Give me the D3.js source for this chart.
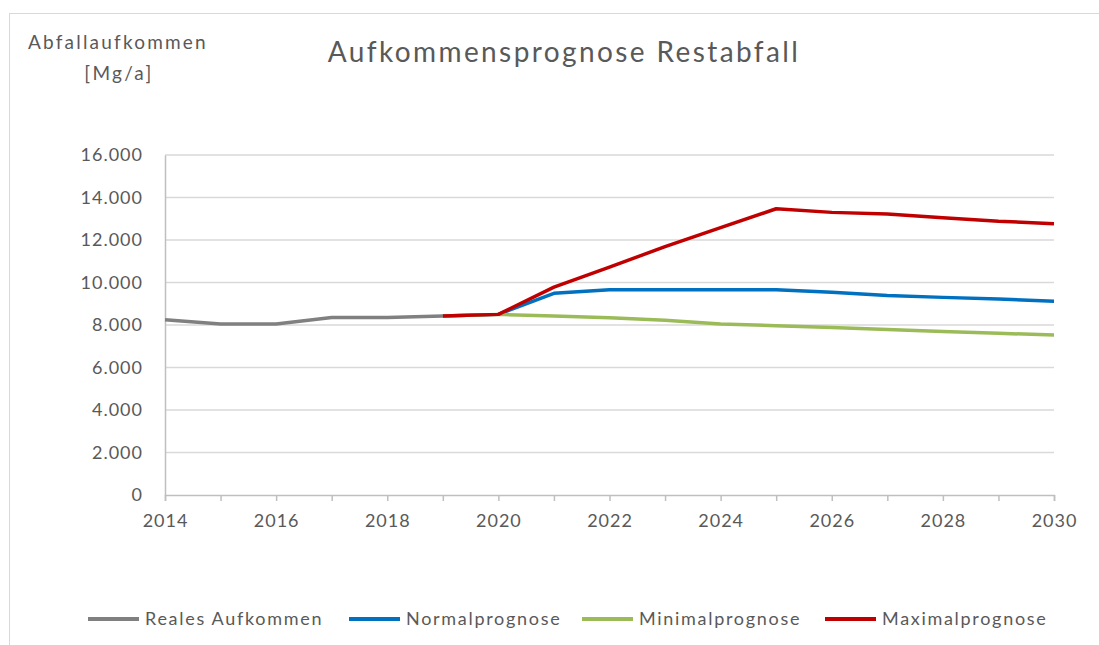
<!DOCTYPE html>
<html>
<head>
<meta charset="utf-8">
<script src="https://cdn.jsdelivr.net/npm/d3@7"></script>
<style>
  body { margin: 0; background: #fff; }
  svg text { font-family: Lato, "Open Sans", sans-serif; fill: #595959; }
</style>
</head>
<body>
<div id="chart"></div>
<script>
// values
const realYears = [2014, 2015, 2016, 2017, 2018, 2019];
const realValues = [8250, 8050, 8050, 8350, 8350, 8420];

const forecastYears = [2019, 2020, 2021, 2022, 2023, 2024, 2025, 2026, 2027, 2028, 2029, 2030];
const normalValues = [8420, 8500, 9490, 9660, 9660, 9660, 9660, 9540, 9390, 9300, 9220, 9120];
const minimalValues = [8420, 8500, 8420, 8340, 8220, 8050, 7970, 7880, 7790, 7690, 7610, 7530];
const maximalValues = [8420, 8500, 9780, 10720, 11690, 12580, 13470, 13300, 13220, 13050, 12880, 12770];

const yTicks = [0, 2000, 4000, 6000, 8000, 10000, 12000, 14000, 16000];
const xTicks = [2014, 2016, 2018, 2020, 2022, 2024, 2026, 2028, 2030];

const seriesNames = ["Reales Aufkommen", "Normalprognose", "Minimalprognose", "Maximalprognose"];
const seriesColors = ["#808080", "#0070c0", "#9bbb59", "#c00000"];

const width = 1099, height = 645;
const margin = { top: 155, right: 45, bottom: 150, left: 165 };

const svg = d3.select("#chart")
  .append("svg")
  .attr("width", width)
  .attr("height", height)
  .attr("viewBox", [0, 0, width, height]);

// chart frame (runs off the right and bottom edges)
svg.append("rect")
  .attr("x", 9.5).attr("y", 13.5)
  .attr("width", 1100).attr("height", 700)
  .attr("fill", "none")
  .attr("stroke", "#d9d9d9");

const x = d3.scaleLinear()
  .domain([2014, 2030])
  .range([margin.left, width - margin.right]);

const y = d3.scaleLinear()
  .domain([0, 16000])
  .range([height - margin.bottom, margin.top]);

// gridlines
svg.append("g")
  .selectAll("line")
  .data(yTicks.filter(d => d > 0))
  .join("line")
    .attr("x1", x(2014)).attr("x2", x(2030))
    .attr("y1", d => y(d)).attr("y2", d => y(d))
    .attr("stroke", "#d9d9d9")
    .attr("stroke-width", 1.5);

const fmt = d => d === 0 ? "0" : d3.format(",")(d).replace(/,/g, ".");

function yAxis(g) {
  g.attr("transform", `translate(${margin.left},0)`)
    .call(d3.axisLeft(y).tickValues(yTicks).tickFormat(fmt).tickSize(0).tickPadding(22))
    .call(g => g.select(".domain").attr("stroke", "#bfbfbf").attr("stroke-width", 1.5))
    .attr("font-size", "18px");
}

function xAxis(g) {
  g.attr("transform", `translate(0,${y(0)})`)
    .call(d3.axisBottom(x).tickValues(d3.range(2014, 2031)).tickFormat(d => xTicks.includes(d) ? d : "").tickSize(6).tickPadding(13))
    .call(g => g.select(".domain").attr("stroke", "#bfbfbf").attr("stroke-width", 1.5))
    .call(g => g.selectAll(".tick line").attr("stroke", "#bfbfbf").attr("stroke-width", 1.5))
    .attr("font-size", "18px");
}

svg.append("g").call(yAxis);
svg.append("g").call(xAxis);
svg.selectAll(".tick text")
  .attr("fill", "#595959")
  .style("font-family", "Lato, sans-serif")
  .style("letter-spacing", "1px");

const line = d3.line()
  .x(d => x(d[0]))
  .y(d => y(d[1]));

const series = [
  d3.zip(realYears, realValues),
  d3.zip(forecastYears, normalValues),
  d3.zip(forecastYears, minimalValues),
  d3.zip(forecastYears, maximalValues)
];

svg.append("g")
  .selectAll("path")
  .data(series)
  .join("path")
    .attr("d", line)
    .attr("fill", "none")
    .attr("stroke", (d, i) => seriesColors[i])
    .attr("stroke-width", 3.5)
    .attr("stroke-linejoin", "round");

// titles
svg.append("text")
  .attr("x", 564).attr("y", 62)
  .attr("text-anchor", "middle")
  .attr("font-size", "28px")
  .style("letter-spacing", "2.4px")
  .text("Aufkommensprognose Restabfall");

svg.append("text")
  .attr("x", 118).attr("y", 49)
  .attr("text-anchor", "middle")
  .attr("font-size", "19px")
  .style("letter-spacing", "2.2px")
  .text("Abfallaufkommen");

svg.append("text")
  .attr("x", 119).attr("y", 80)
  .attr("text-anchor", "middle")
  .attr("font-size", "19px")
  .style("letter-spacing", "2.3px")
  .text("[Mg/a]");

// legend
const legendX = [88, 349, 582, 825];
const legend = svg.append("g")
  .selectAll("g")
  .data(seriesNames)
  .join("g")
    .attr("transform", (d, i) => `translate(${legendX[i]},619)`);

legend.append("line")
  .attr("x1", 0).attr("x2", 51)
  .attr("stroke", (d, i) => seriesColors[i])
  .attr("stroke-width", 4);

legend.append("text")
  .attr("x", 57).attr("y", 6)
  .attr("font-size", "18px")
  .style("letter-spacing", "1.7px")
  .text(d => d);
</script>
</body>
</html>
